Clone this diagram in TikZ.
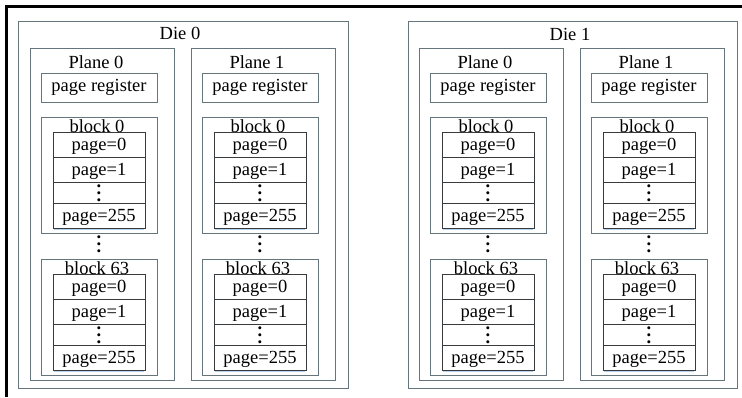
\documentclass[tikz,border=0pt]{standalone}
\usepackage{fontspec}
\setmainfont{Liberation Serif}
\definecolor{boxgray}{HTML}{65757B}
\definecolor{pagegray}{HTML}{383B3E}
\definecolor{glow}{HTML}{B4D2EE}
\newcommand\fs{\fontsize{18.5}{20}\selectfont}
\newcommand\vdts{\vbox{\bfseries\baselineskip=6.8pt\lineskiplimit=-10pt\hbox{.}\hbox{.}\hbox{.}}}
\tikzset{
  boxline/.style={draw=boxgray, line width=0.9pt},
  pageline/.style={draw=pagegray, line width=0.9pt},
  framel/.style={draw=black, line width=2.6pt},
  glowline/.style={draw=glow, line width=1.4pt},
  rowbox/.style={pageline, minimum width=92pt, minimum height=#1},
  pics/plane/.style={code={
    \node[boxline, anchor=north west, minimum width=143.5pt, minimum height=332pt] (-f) at (0,0) {};
    \node (-t) at (66,14) {#1};
    \node[boxline, minimum width=116pt, minimum height=29pt] (-reg) at (69,39.5) {page register};
    \foreach \top/\n in {69/0,211/63}{
      \node[boxline, minimum width=116pt, minimum height=116pt] (-b\n) at (69,\top+58) {};
      \coordinate (-g\n a) at (24,\top+112.5);
      \coordinate (-g\n b) at (114,\top+112.5);
      \draw[glowline] (-g\n a) -- (-g\n b);
      \node[rowbox=25pt] (-b\n r0) at (69,\top+27.5) {};
      \node[rowbox=25pt] (-b\n r1) at (69,\top+52.5) {};
      \node[rowbox=21pt] (-b\n r2) at (69,\top+75.5) {};
      \node[rowbox=25pt] (-b\n r3) at (69,\top+98.5) {};
      \node (-b\n t) at (67,\top+9.5) {block \n};
      \node[yshift=-2pt] at (-b\n r0) {page=0};
      \node[yshift=-2pt] at (-b\n r1) {page=1};
      \node[yshift=-1pt] at (-b\n r2) {\vdts};
      \node[yshift=-2pt] at (-b\n r3) {page=255};
    }
    \node (-dots) at (69,196) {\vdts};
  }}
}
\begin{document}
\begin{tikzpicture}[x=1pt,y=-1pt, every node/.style={font=\fs, inner sep=0pt}]
\useasboundingbox (0,0) rectangle (742,397);
\coordinate (fa) at (6.3,397);
\coordinate (fb) at (6.3,6.3);
\coordinate (fc) at (742,6.3);
\draw[framel] (fa) -- (fb) -- (fc);
\node[boxline, anchor=north west, minimum width=330pt, minimum height=367pt] (die0) at (18,21) {};
\node (die0t) at (180,33) {Die 0};
\node[boxline, anchor=north west, minimum width=329pt, minimum height=367pt] (die1) at (408,21) {};
\node (die1t) at (570,34) {Die 1};
\pic (d0p0) at (30,48) {plane={Plane 0}};
\pic (d0p1) at (191,48) {plane={Plane 1}};
\pic (d1p0) at (419,48) {plane={Plane 0}};
\pic (d1p1) at (580,48) {plane={Plane 1}};
\end{tikzpicture}
\end{document}
